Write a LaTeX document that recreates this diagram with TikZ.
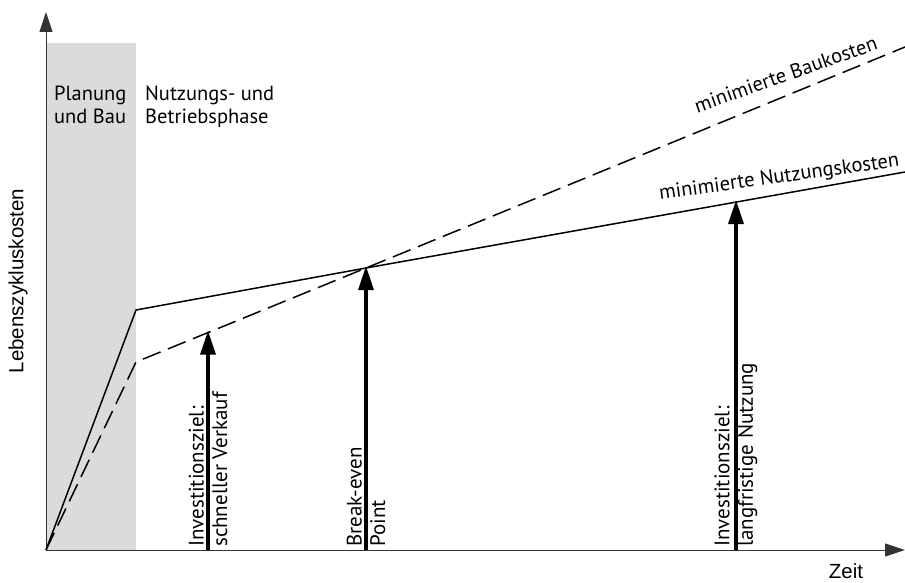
\documentclass[tikz,border=0pt]{standalone}
\usepackage{fontspec}
\setmainfont{PT Sans}
\newfontfamily\axisfont{Liberation Sans}
\usetikzlibrary{arrows.meta}

\tikzset{
  axisline/.style={draw=black!80, line width=1pt,
    -{Triangle[length=20pt,width=13pt]}},
  costline/.style={draw=black, line width=1.5pt, line join=miter},
  dashline/.style={costline, dash pattern=on 19pt off 8pt},
  goalarrow/.style={draw=black, line width=3.2pt,
    -{Triangle[length=24pt,width=15pt]}, shorten >=-2pt},
  phase/.style={font=\fontsize{20.5}{23}\selectfont, align=left,
    anchor=north west, inner sep=0pt},
  vlabel/.style={font=\fontsize{21}{23.5}\selectfont, align=left,
    rotate=90, anchor=west, inner sep=0pt},
  slopelabel/.style={font=\fontsize{20.5}{22}\selectfont, inner sep=0pt,
    anchor=base},
  axislabel/.style={font=\axisfont\fontsize{20.5}{22}\selectfont, inner sep=0pt}
}

\begin{document}
\begin{tikzpicture}[x=1pt, y=-1pt]
\useasboundingbox (0,0) rectangle (905,583);

% planning and construction phase
\fill[black!14] (46,43) rectangle (136,550);

% key points
\coordinate (O)  at (46,550);
\coordinate (YT) at (46,12);
\coordinate (XT) at (905,550);
\coordinate (S1) at (136,310);
\coordinate (D1) at (136,362);
\coordinate (BE) at (366,268);
\coordinate (SE) at (905,172);
\coordinate (DE) at (905,47);
\coordinate (Q)  at (208,332.6);
\coordinate (L)  at (736,202);
\coordinate (Qb) at (208,550);
\coordinate (Bb) at (366,550);
\coordinate (Lb) at (736,550);

% axes
\draw[axisline] (O) -- (YT);
\draw[axisline] (O) -- (XT);

% cost curves
\draw[costline] (O) -- (S1) -- (BE) -- (SE);
\draw[dashline] (O) -- (D1) -- (BE) -- (DE);

% investment goal arrows
\draw[goalarrow] (Qb) -- (Q);
\draw[goalarrow] (Bb) -- (BE);
\draw[goalarrow] (Lb) -- (L);

% phase labels
\node[phase] (plan) at (54,86) {Planung\\und Bau};
\node[phase] (use)  at (145,86) {Nutzungs- und\\Betriebsphase};

% curve labels
\node[slopelabel, rotate=19.5] (bau) at (788,81) {minimierte Baukosten};
\node[slopelabel, rotate=8] (nutz) at (780,183) {minimierte Nutzungskosten};

% arrow labels
\node[vlabel] (q)  at (208,547) {Investitionsziel:\\schneller Verkauf};
\node[vlabel] (b)  at (366,547) {Break-even\\Point};
\node[vlabel] (lz) at (736,547) {Investitionsziel:\\langfristige Nutzung};

% axis labels
\node[axislabel, rotate=90] (ylab) at (18,281) {Lebenszykluskosten};
\node[axislabel] (xlab) at (846,571) {Zeit};
\end{tikzpicture}
\end{document}
